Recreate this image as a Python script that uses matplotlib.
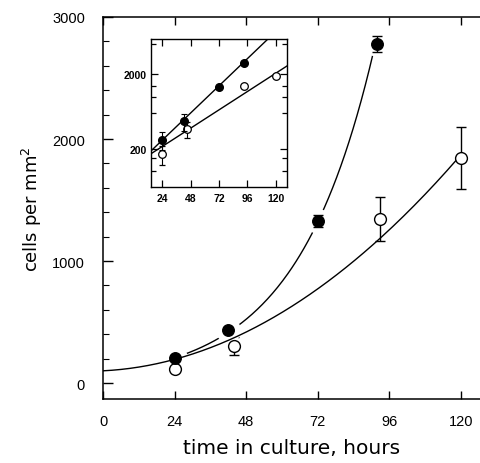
import matplotlib as mpl
mpl.use("Agg")
import matplotlib.pyplot as plt
import numpy as np

mpl.rcParams.update({
    "font.family": ["Liberation Sans", "DejaVu Sans"],
    "xtick.direction": "in",
    "ytick.direction": "in",
})

# main panel data (cells per mm^2)
t_filled = [24, 42, 72, 92]
y_filled = [205, 434, 1328, 2779]
e_filled = [0, 0, 50, 65]

t_open = [24, 44, 93, 120]
y_open = [115, 303, 1344, 1844]
e_open = [0, 75, 180, 254]

# inset data (log scale)
ti_filled = [24, 42, 72, 93]
yi_filled = [264, 472, 1341, 2803]
ei_filled = [70, 120, 80, 160]

ti_open = [24, 45, 93, 120]
yi_open = [171, 370, 1384, 1880]
ei_open = [50, 90, 0, 70]

# fitted curves
fit_filled = (82, 0.0386)          # A * exp(k t)
fit_open = (100, 1.2, 0.113)       # a + b t + c t^2
fit_i_filled = (114, 0.0347)
fit_i_open = (123, 0.0234)

fig = plt.figure(figsize=(4.81, 4.64), dpi=100)
ax = fig.add_axes([103/481, 64/464, 378/481, 382/464])

tf = np.linspace(24, 92, 200)
ax.plot(tf, fit_filled[0] * np.exp(fit_filled[1] * tf), color='black', lw=1.0, zorder=1)

ax.errorbar(t_open, y_open, yerr=e_open, fmt='none', ecolor='black',
            elinewidth=1.0, capsize=3.5, capthick=1.0, zorder=2)

# white halos around the filled points break the curve
ax.plot(t_filled, y_filled, 'o', ms=18, color='white', mec='none', zorder=3)

to = np.linspace(0, 120, 200)
ax.plot(to, fit_open[0] + fit_open[1] * to + fit_open[2] * to**2,
        color='black', lw=1.0, zorder=4)

ax.plot(t_open, y_open, 'o', ms=8.5, mfc='white', mec='black', mew=1.0, zorder=5)
ax.errorbar(t_filled, y_filled, yerr=e_filled, fmt='o', ms=8.3, color='black',
            elinewidth=1.0, capsize=3.5, capthick=1.0, zorder=6)

ax.set_xlim(0, 126.7)
ax.set_ylim(-131, 3000)
ax.set_xticks(np.arange(0, 121, 24))
ax.set_yticks([0, 1000, 2000, 3000])
ax.set_yticks(np.arange(200, 3000, 200), minor=True)
ax.tick_params(axis='x', which='both', top=True, length=6, width=1, labelsize=10.5, pad=11)
ax.tick_params(axis='y', which='major', length=7, width=1, labelsize=10.5, pad=13)
ax.tick_params(axis='y', which='minor', length=4, width=0.8)
ax.spines['right'].set_visible(False)
for s in ['left', 'bottom', 'top']:
    ax.spines[s].set_linewidth(1.1)

ax.set_xlabel('time in culture, hours', family='DejaVu Sans', fontsize=14.5, labelpad=7)
ax.set_ylabel('cells per mm$^2$', family='DejaVu Sans', fontsize=13, labelpad=6)

# inset
axi = fig.add_axes([151/481, 276/464, 136/481, 148/464])
axi.set_yscale('log')
ti = np.linspace(14.4, 129.7, 100)
axi.plot(ti, fit_i_filled[0] * np.exp(fit_i_filled[1] * ti), color='black', lw=1.0, zorder=1)
axi.plot(ti, fit_i_open[0] * np.exp(fit_i_open[1] * ti), color='black', lw=1.0, zorder=1)
axi.errorbar(ti_open, yi_open, yerr=ei_open, fmt='o', ms=5.5, mfc='white', mec='black',
             mew=0.9, ecolor='black', elinewidth=0.8, capsize=2.5, capthick=0.8, zorder=3)
axi.errorbar(ti_filled, yi_filled, yerr=ei_filled, fmt='o', ms=5.5, color='black',
             elinewidth=0.8, capsize=2.5, capthick=0.8, zorder=4)

axi.set_xlim(14.4, 129.7)
axi.set_ylim(62, 5860)
axi.set_xticks(np.arange(24, 121, 24))
axi.set_yticks([200, 2000])
axi.set_yticklabels(['200', '2000'])
axi.set_yticks([100, 150, 600, 1000, 1400, 5000], minor=True)
axi.yaxis.set_minor_formatter(mpl.ticker.NullFormatter())
axi.tick_params(axis='both', which='both', top=True, right=True, length=5, width=0.9)
axi.tick_params(axis='both', which='minor', length=3.5)
axi.tick_params(axis='x', labelsize=7.5, pad=4)
axi.tick_params(axis='y', labelsize=7.5, pad=3)
for lab in axi.get_xticklabels() + axi.get_yticklabels():
    lab.set_fontweight('bold')
for s in axi.spines.values():
    s.set_linewidth(1.0)

fig.savefig('out.png', dpi=100)
